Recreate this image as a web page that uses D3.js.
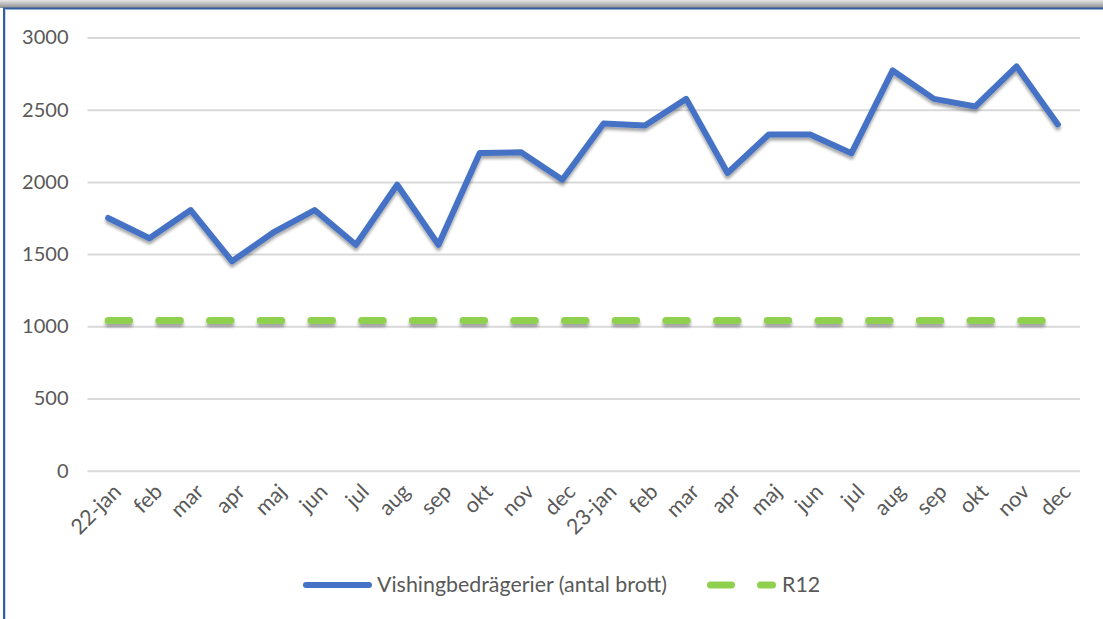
<!DOCTYPE html>
<html>
<head>
<meta charset="utf-8">
<script src="https://cdn.jsdelivr.net/npm/d3@7"></script>
<style>
  html, body { margin: 0; padding: 0; background: #fff; }
  svg { display: block; }
  text { font-family: Lato, "Open Sans", sans-serif; fill: #595959; }
</style>
</head>
<body>
<svg id="chart" width="1103" height="619"></svg>
<script>
// ---- data ----
const categories = ["22-jan","feb","mar","apr","maj","jun","jul","aug","sep","okt","nov","dec",
                    "23-jan","feb ","mar ","apr ","maj ","jun ","jul ","aug ","sep ","okt ","nov ","dec "];
const vishing = [1750,1610,1805,1450,1650,1805,1565,1980,1565,2200,2205,2015,
                 2405,2390,2575,2062,2328,2328,2198,2772,2575,2522,2800,2398];
const r12 = [1040,1040,1040,1040,1040,1040,1040,1040,1040,1040,1040,1040,
             1040,1040,1040,1040,1040,1040,1040,1040,1040,1040,1040,1040];
const yTicks = [0,500,1000,1500,2000,2500,3000];
const seriesNames = ["Vishingbedrägerier (antal brott)", "R12"];

// ---- layout ----
const W = 1103, H = 619;
const plot = {left: 87.5, right: 1078.5, top: 37.5, bottom: 470.7};
const svg = d3.select("#chart");
const yFont = 20, xFont = 21.4;

// drop-shadow filter (user space so a flat line still gets it)
const defs = svg.append("defs");
const f = defs.append("filter").attr("id","shadow").attr("filterUnits","userSpaceOnUse")
  .attr("x",0).attr("y",0).attr("width",W).attr("height",H);
f.append("feDropShadow").attr("dx",0).attr("dy",3).attr("stdDeviation",1.6)
  .attr("flood-color","#000").attr("flood-opacity",0.35);
const g1 = defs.append("linearGradient").attr("id","topShade").attr("x1",0).attr("y1",0).attr("x2",0).attr("y2",1);
g1.append("stop").attr("offset","0%").attr("stop-color","#e6e6e6");
g1.append("stop").attr("offset","100%").attr("stop-color","#8c8c8c");

// frame
svg.append("rect").attr("x",0).attr("y",0).attr("width",W).attr("height",8).attr("fill","url(#topShade)");
svg.append("line").attr("x1",3).attr("x2",W).attr("y1",8.5).attr("y2",8.5).attr("stroke","#2f5f9f").attr("stroke-width",2);
svg.append("line").attr("x1",4).attr("x2",4).attr("y1",8).attr("y2",H).attr("stroke","#2f5f9f").attr("stroke-width",2);
svg.append("line").attr("x1",5.5).attr("x2",5.5).attr("y1",9.5).attr("y2",H).attr("stroke","#c9d8ec").attr("stroke-width",1);

// scales
const x = d3.scaleBand().domain(categories).range([plot.left, plot.right]).padding(0);
const xc = d => x(d) + x.bandwidth()/2;
const y = d3.scaleLinear().domain([0,3000]).range([plot.bottom, plot.top]);

// gridlines
const grid = svg.append("g").attr("transform",`translate(${plot.left},0)`)
  .call(d3.axisLeft(y).tickValues(yTicks).tickSize(-(plot.right-plot.left+1.5)).tickFormat(""));
grid.select(".domain").remove();
grid.selectAll(".tick line").attr("stroke","#d9d9d9").attr("stroke-width",2);

// y axis labels
const yAx = svg.append("g").attr("transform",`translate(${plot.left},0)`)
  .call(d3.axisLeft(y).tickValues(yTicks).tickSize(0).tickPadding(19).tickFormat(d3.format("d")));
yAx.select(".domain").remove();
yAx.selectAll("text").attr("font-size",yFont).attr("font-family",null).style("fill","#595959");

// x axis labels
const xAx = svg.append("g").attr("transform",`translate(0,${plot.bottom})`)
  .call(d3.axisBottom(x).tickSize(0).tickFormat(d => d.trim()));
xAx.select(".domain").remove();
xAx.selectAll("text")
  .attr("font-size",xFont).attr("font-family",null).style("fill","#595959")
  .attr("text-anchor","end")
  .attr("x",0).attr("y",0).attr("dy","0.35em")
  .attr("transform","translate(9,17) rotate(-45)");

// series
const line = d3.line().x((d,i) => xc(categories[i])).y(d => y(d));

svg.append("path").datum(r12).attr("d",line)
  .attr("fill","none").attr("stroke","#8fd14f").attr("stroke-width",7)
  .attr("stroke-linecap","round").attr("stroke-dasharray","21.5 29.2")
  .attr("filter","url(#shadow)");

svg.append("path").datum(vishing).attr("d",line)
  .attr("fill","none").attr("stroke","#4472c4").attr("stroke-width",6)
  .attr("stroke-linejoin","round").attr("stroke-linecap","round")
  .attr("filter","url(#shadow)");

// legend
const leg = svg.append("g");
const ly = 585;
leg.append("line").attr("x1",306).attr("x2",369).attr("y1",ly).attr("y2",ly)
  .attr("stroke","#4472c4").attr("stroke-width",6).attr("stroke-linecap","round");
leg.append("text").attr("x",377).attr("y",ly).attr("dy","0.35em").attr("font-size",xFont).text(seriesNames[0]);
leg.append("line").attr("x1",710.5).attr("x2",772.5).attr("y1",ly).attr("y2",ly)
  .attr("stroke","#8fd14f").attr("stroke-width",7).attr("stroke-linecap","round")
  .attr("stroke-dasharray","21 29");
leg.append("text").attr("x",782).attr("y",ly).attr("dy","0.35em").attr("font-size",xFont).text(seriesNames[1]);
</script>
</body>
</html>
